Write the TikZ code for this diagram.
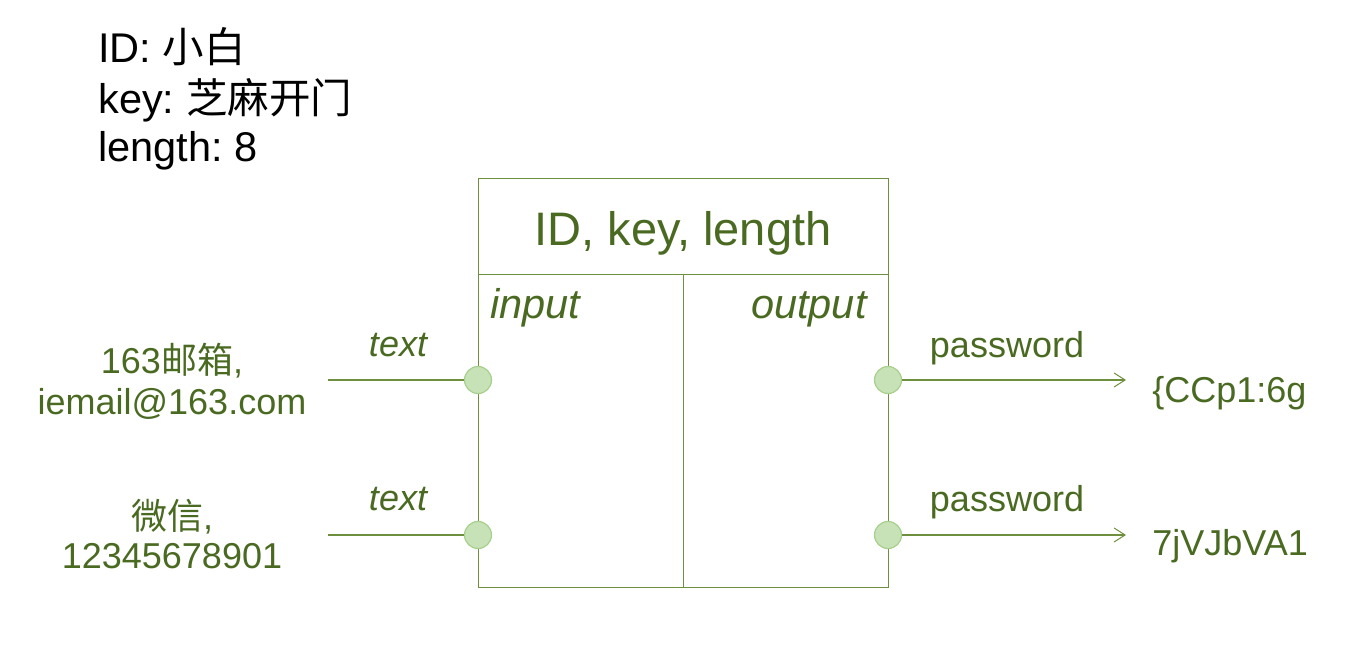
\documentclass[tikz,border=0pt]{standalone}
\usepackage{fontspec}
\setmainfont{Liberation Sans}
\newfontfamily\cjk{Noto Sans CJK SC}
\usetikzlibrary{arrows.meta}
\frenchspacing
\definecolor{txtgreen}{HTML}{4A6A22}
\definecolor{linegreen}{HTML}{6E8F3E}
\definecolor{dotfill}{HTML}{C8E2B8}
\definecolor{dotdraw}{HTML}{A8D08D}
\tikzset{
  lbl/.style={text=txtgreen, inner sep=0pt, font=\fontsize{18}{20}\selectfont},
  big/.style={text=txtgreen, inner sep=0pt, font=\fontsize{20.75}{24}\selectfont\itshape},
  hdr/.style={text=black, inner sep=0pt, anchor=base west, font=\fontsize{20.75}{24}\selectfont},
  port/.style={circle, fill=dotfill, draw=dotdraw, line width=0.6pt, minimum size=13.5pt, inner sep=0pt},
  wire/.style={draw=linegreen, line width=0.6pt},
  box/.style={draw=linegreen, line width=0.5pt},
}
\begin{document}
\begin{tikzpicture}[x=0.5pt, y=-0.5pt]
\useasboundingbox (0,0) rectangle (1353,663);
% header text
\node[hdr] (h1) at (98,63) {ID: {\cjk 小白}};
\node[hdr] (h2) at (98,114) {key: {\cjk 芝麻开门}};
\node[hdr] (h3) at (98,162) {length: 8};
% box
\draw[box] (478,179) rectangle (888,587);
\draw[box] (478,274) -- (888,274);
\draw[box] (683,274) -- (683,587);
\node[text=txtgreen, inner sep=0pt, anchor=base, font=\fontsize{23.5}{26}\selectfont] (title) at (683,246) {ID, key, length};
\node[big, anchor=base west] (inp) at (490,318) {input};
\node[big, anchor=base east] (outp) at (867,318) {output};
% ports
\node[port] (pi1) at (478,380) {};
\node[port] (pi2) at (478,535) {};
\node[port] (po1) at (888,380) {};
\node[port] (po2) at (888,535) {};
\coordinate (li1) at (328,380);
\coordinate (li2) at (328,535);
\coordinate (ro1) at (1126,380);
\coordinate (ro2) at (1126,535);
\draw[wire] (li1) -- (pi1);
\draw[wire] (li2) -- (pi2);
\draw[wire, -{Straight Barb[length=5.5pt, width=7pt, line width=0.5pt]}] (po1) -- (ro1);
\draw[wire, -{Straight Barb[length=5.5pt, width=7pt, line width=0.5pt]}] (po2) -- (ro2);
% labels on wires
\node[lbl, anchor=base, font=\fontsize{18}{20}\selectfont\itshape] (t1) at (398,356) {text};
\node[lbl, anchor=base, font=\fontsize{18}{20}\selectfont\itshape] (t2) at (398,510) {text};
\node[lbl, anchor=base] (pw1) at (1007,357) {password};
\node[lbl, anchor=base] (pw2) at (1007,511) {password};
% left inputs
\node[lbl, anchor=base] (a1) at (172,373) {163{\cjk 邮箱},};
\node[lbl, anchor=base] (a2) at (172,414) {iemail@163.com};
\node[lbl, anchor=base] (b1) at (172,529) {{\cjk 微信},};
\node[lbl, anchor=base] (b2) at (172,568) {12345678901};
% right outputs
\node[lbl, anchor=base west] (o1) at (1152,402) {\{CCp1:6g};
\node[lbl, anchor=base west] (o2) at (1152,555) {7jVJbVA1};
\end{tikzpicture}
\end{document}
